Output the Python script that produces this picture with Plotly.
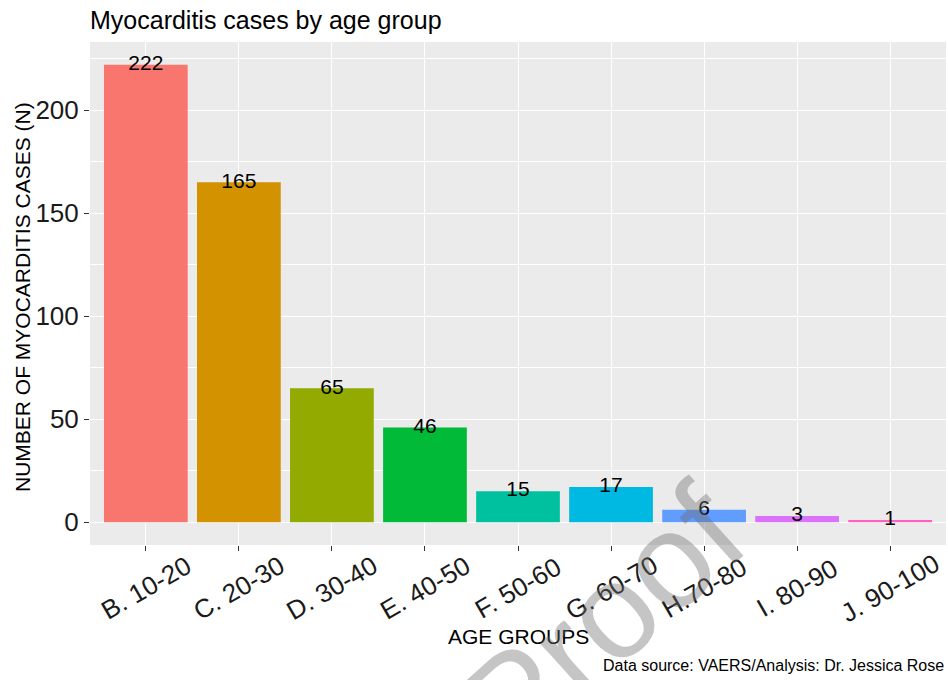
import plotly.graph_objects as go

categories = ["B. 10-20", "C. 20-30", "D. 30-40", "E. 40-50", "F. 50-60",
              "G. 60-70", "H.70-80", "I. 80-90", "J. 90-100"]
cases = [222, 165, 65, 46, 15, 17, 6, 3, 1]
colors = ["#F8766D", "#D39200", "#93AA00", "#00BA38", "#00C19F",
          "#00B9E3", "#619CFF", "#DB72FB", "#FF61C3"]
y_ticks = [0, 50, 100, 150, 200]
y_minor = [25, 75, 125, 175, 225]

FONT = "Liberation Sans, Arial, sans-serif"

fig = go.Figure()
fig.add_trace(go.Bar(
    x=categories, y=cases, width=0.9,
    marker=dict(color=colors, line=dict(width=0)),
    showlegend=False, hoverinfo="x+y",
))
fig.add_trace(go.Scatter(
    x=categories, y=cases, mode="text", text=[str(v) for v in cases],
    textposition="middle center",
    textfont=dict(family=FONT, size=21, color="black"),
    showlegend=False, hoverinfo="skip",
))

annotations = []
for c in categories:
    annotations.append(dict(
        x=c, xref="x", y=0, yref="paper", yshift=-43,
        text=c, showarrow=False, textangle=-30,
        xanchor="center", yanchor="middle",
        font=dict(family=FONT, size=26, color="#1a1a1a"),
    ))
annotations += [
    dict(x=-0.0795, xref="paper", y=0.493, yref="paper",
         text="NUMBER OF MYOCARDITIS CASES (N)", textangle=-90,
         showarrow=False, xanchor="center", yanchor="middle",
         font=dict(family=FONT, size=21, color="black")),
    dict(x=0.5, xref="paper", y=0, yref="paper", yshift=-91,
         text="AGE GROUPS", showarrow=False,
         xanchor="center", yanchor="middle",
         font=dict(family=FONT, size=21, color="black")),
    dict(x=1, xref="paper", y=0, yref="paper", yshift=-120,
         text="Data source: VAERS/Analysis: Dr. Jessica Rose", showarrow=False,
         xanchor="right", yanchor="middle",
         font=dict(family=FONT, size=16, color="black")),
    dict(x=(602 - 90) / 856, xref="paper", y=(545 - 620) / 503, yref="paper",
         text="Proof", showarrow=False, textangle=-42,
         xanchor="center", yanchor="middle",
         font=dict(family=FONT, size=135, color="rgba(110,110,110,0.4)")),
]

fig.update_layout(
    width=948, height=680,
    margin=dict(l=90, r=2, t=42, b=135),
    paper_bgcolor="white", plot_bgcolor="#EBEBEB",
    title=dict(text="Myocarditis cases by age group", x=0, xref="paper",
               xanchor="left", y=1 - 20 / 680, yanchor="middle",
               font=dict(family=FONT, size=25, color="black")),
    font=dict(family=FONT),
    annotations=annotations,
    xaxis=dict(
        type="category", categoryorder="array", categoryarray=categories,
        range=[-0.6, len(categories) - 0.4],
        showticklabels=False, ticks="outside", ticklen=5, tickwidth=1,
        tickcolor="#333333", showgrid=True, gridcolor="white", gridwidth=1.3,
        zeroline=False, showline=False,
    ),
    yaxis=dict(
        range=[-11.1, 233.1], tickvals=y_ticks, ticks="outside", ticklen=5,
        tickwidth=1, tickcolor="#333333",
        tickfont=dict(family=FONT, size=26, color="#1a1a1a"),
        showgrid=True, gridcolor="white", gridwidth=1.3, zeroline=False,
        showline=False,
        minor=dict(tickvals=y_minor, showgrid=True, gridcolor="white", gridwidth=0.6),
    ),
)

fig.write_html("out.html", config={"displayModeBar": False},
               post_script="document.body.style.margin='0';")
